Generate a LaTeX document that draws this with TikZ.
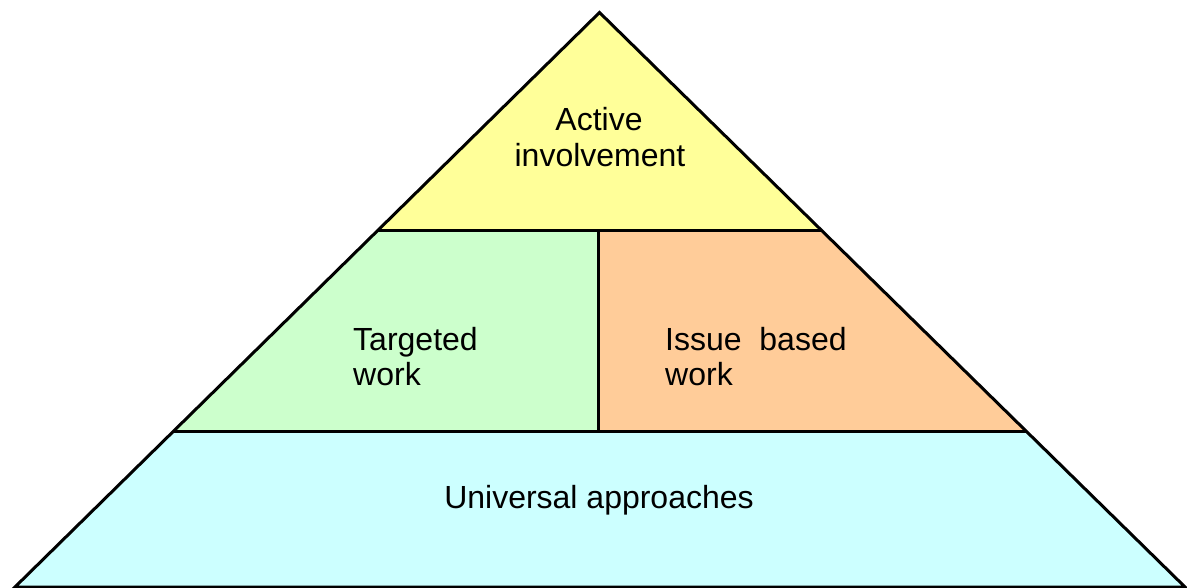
\documentclass[tikz,border=0pt]{standalone}
\usepackage{fontspec}
\setmainfont{Liberation Sans}
\definecolor{cyellow}{HTML}{FFFF99}
\definecolor{cgreen}{HTML}{CCFFCC}
\definecolor{corange}{HTML}{FFCC99}
\definecolor{ccyan}{HTML}{CCFFFF}
\tikzset{
  edge/.style={line width=3pt, line join=miter, draw=black},
  lbl/.style={inner sep=0pt, font=\fontsize{32}{36}\selectfont}
}
\begin{document}
\begin{tikzpicture}[x=1pt,y=-1pt]
\useasboundingbox (0,0) rectangle (1187,588);
\coordinate (apex) at (599.5,12.5);
\coordinate (bl) at (15,587);
\coordinate (br) at (1185,587);
\coordinate (t1l) at (376.5,231);
\coordinate (t1m) at (598,231);
\coordinate (t1r) at (822,231);
\coordinate (t2l) at (173.5,431);
\coordinate (t2m) at (598,431);
\coordinate (t2r) at (1026,431);
% fills
\fill[cyellow] (apex) -- (t1r) -- (t1l) -- cycle;
\fill[cgreen] (t1l) -- (t1m) -- (t2m) -- (t2l) -- cycle;
\fill[corange] (t1m) -- (t1r) -- (t2r) -- (t2m) -- cycle;
\fill[ccyan] (t2l) -- (t2r) -- (br) -- (bl) -- cycle;
% outlines
\draw[edge] (apex) -- (br) -- (bl) -- cycle;
\draw[edge] (t1l) -- (t1r);
\draw[edge] (t2l) -- (t2r);
\draw[edge] (t1m) -- (t2m);
% labels
\node[lbl, anchor=base] (a1) at (599,131) {Active};
\node[lbl, anchor=base] (a2) at (600,167) {involvement};
\node[lbl, anchor=base west] (g1) at (353,350) {Targeted};
\node[lbl, anchor=base west] (g2) at (353,385) {work};
\node[lbl, anchor=base west] (o1) at (665,350) {Issue\ \ based};
\node[lbl, anchor=base west] (o2) at (665,385) {work};
\node[lbl, anchor=base] (u1) at (599,508) {Universal approaches};
\end{tikzpicture}
\end{document}
